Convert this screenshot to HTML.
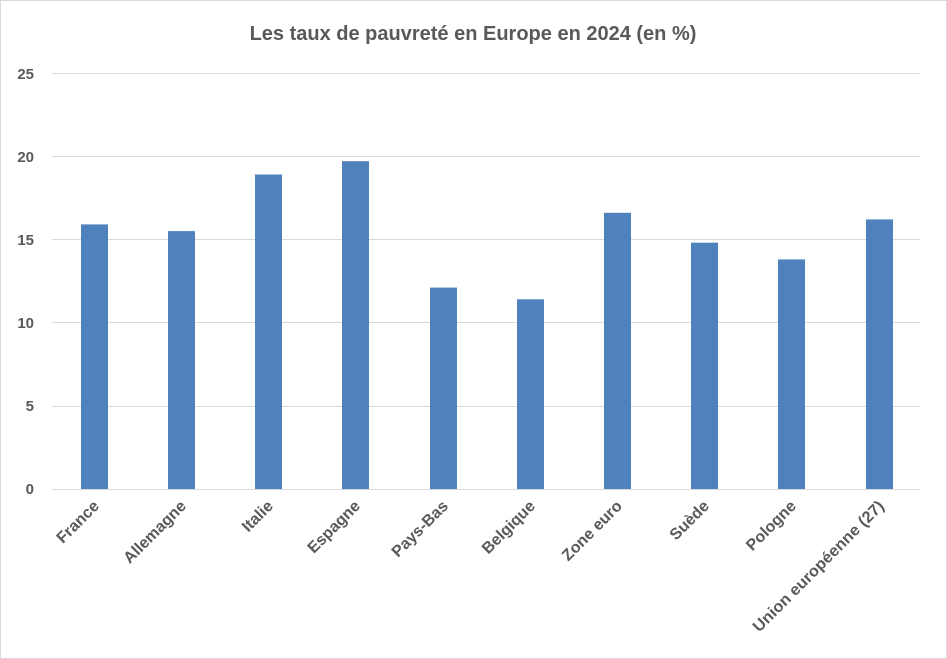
<!DOCTYPE html>
<html><head><meta charset="utf-8"><style>
html,body{margin:0;padding:0;background:#fff}
svg{display:block}
text{font-family:"Liberation Sans",sans-serif;fill:#595959}
</style></head><body>
<svg width="947" height="659" viewBox="0 0 947 659" xmlns="http://www.w3.org/2000/svg">
<rect x="0.5" y="0.5" width="946" height="658" fill="#fff" stroke="#d9d9d9"/>
<text x="473" y="40" text-anchor="middle" font-size="20" font-weight="bold">Les taux de pauvreté en Europe en 2024 (en %)</text>
<g stroke="#d9d9d9" stroke-width="1">
<line x1="52" x2="920" y1="73.5" y2="73.5"/>
<line x1="52" x2="920" y1="156.5" y2="156.5"/>
<line x1="52" x2="920" y1="239.5" y2="239.5"/>
<line x1="52" x2="920" y1="322.5" y2="322.5"/>
<line x1="52" x2="920" y1="406.5" y2="406.5"/>
<line x1="52" x2="920" y1="489.5" y2="489.5"/>
</g>
<g font-size="15" font-weight="bold" text-anchor="end">
<text x="34" y="79">25</text>
<text x="34" y="162">20</text>
<text x="34" y="245">15</text>
<text x="34" y="328">10</text>
<text x="34" y="411">5</text>
<text x="34" y="494">0</text>
</g>
<g fill="#4f81bd">
<rect x="81" y="224.4" width="27" height="264.6"/>
<rect x="168" y="231.1" width="27" height="257.9"/>
<rect x="255" y="174.5" width="27" height="314.5"/>
<rect x="342" y="161.2" width="27" height="327.8"/>
<rect x="430" y="287.6" width="27" height="201.4"/>
<rect x="517" y="299.3" width="27" height="189.7"/>
<rect x="604" y="212.8" width="27" height="276.2"/>
<rect x="691" y="242.7" width="27" height="246.3"/>
<rect x="778" y="259.4" width="27" height="229.6"/>
<rect x="866" y="219.4" width="27" height="269.6"/>
</g>
<g font-size="16" font-weight="bold" text-anchor="end">
<text transform="translate(100,507) rotate(-45)">France</text>
<text transform="translate(187,507) rotate(-45)">Allemagne</text>
<text transform="translate(274,507) rotate(-45)">Italie</text>
<text transform="translate(361,507) rotate(-45)">Espagne</text>
<text transform="translate(449,507) rotate(-45)">Pays-Bas</text>
<text transform="translate(536,507) rotate(-45)">Belgique</text>
<text transform="translate(623,507) rotate(-45)">Zone euro</text>
<text transform="translate(710,507) rotate(-45)">Suède</text>
<text transform="translate(797,507) rotate(-45)">Pologne</text>
<text transform="translate(885,507) rotate(-45)" textLength="178" lengthAdjust="spacingAndGlyphs">Union européenne (27)</text>
</g>
</svg>
</body></html>
